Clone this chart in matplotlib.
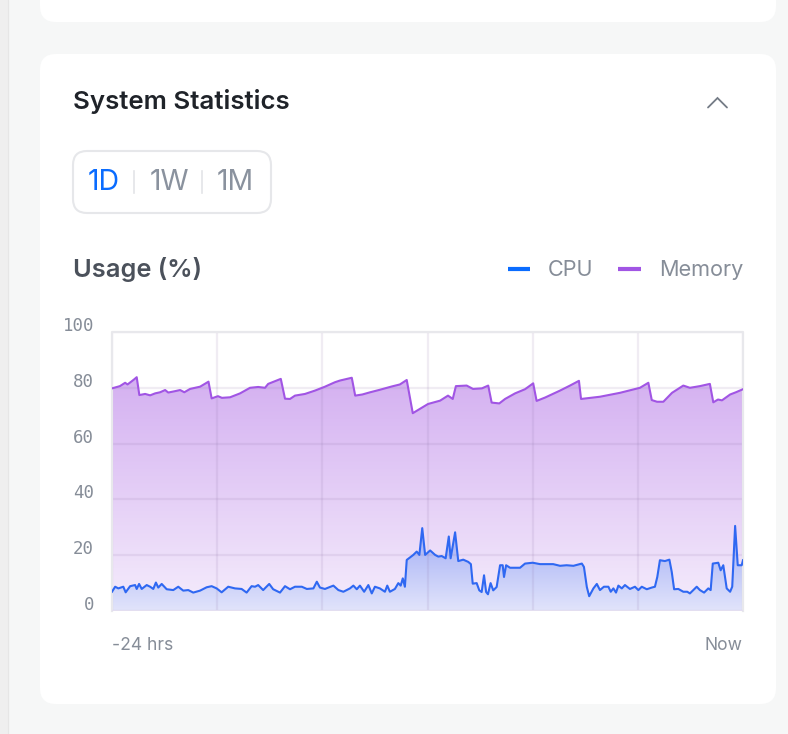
import matplotlib
matplotlib.use("Agg")
import matplotlib.pyplot as plt
import numpy as np
from matplotlib.patches import FancyBboxPatch, Polygon
from matplotlib.colors import LinearSegmentedColormap
import matplotlib.transforms as mtransforms

# ---------------- data ----------------
title = "System Statistics"
chart_title = "Usage (%)"
ranges = ["1D", "1W", "1M"]
series_names = ["CPU", "Memory"]
y_ticks = [0, 20, 40, 60, 80, 100]
x_labels = ["-24 hrs", "Now"]

# hours before now / memory %
mem_t = [-24.0, -23.85, -23.70, -23.50, -23.41, -23.27, -23.16, -23.06, -22.96, -22.74,
         -22.55, -22.36, -22.17, -21.98, -21.86, -21.60, -21.41, -21.25, -21.03, -20.65,
         -20.33, -20.21, -19.97, -19.82, -19.51, -19.13, -18.75, -18.44, -18.18, -18.06,
         -17.58, -17.42, -17.23, -17.04, -16.66, -16.28, -15.90, -15.52, -15.33, -14.88,
         -14.75, -14.48, -14.18, -13.81, -13.35, -13.05, -12.79, -12.56, -12.28, -11.98,
         -11.52, -11.22, -11.04, -10.92, -10.51, -10.27, -9.93, -9.69, -9.56, -9.27,
         -9.05, -8.67, -8.29, -7.98, -7.85, -7.53, -6.96, -6.58, -6.24, -6.16,
         -5.44, -4.68, -3.92, -3.60, -3.47, -3.27, -3.03, -2.70, -2.27, -2.02,
         -1.64, -1.26, -1.13, -0.95, -0.80, -0.49, -0.27, 0.0]
mem_v = [79.8, 80.2, 80.6, 81.8, 81.2, 82.2, 83.0, 83.8, 77.4, 77.8,
         77.3, 78.0, 78.4, 79.2, 78.3, 78.8, 79.2, 78.4, 79.6, 80.4,
         82.2, 76.2, 77.0, 76.4, 76.6, 78.0, 80.0, 80.3, 80.0, 81.4,
         83.2, 76.1, 76.0, 77.2, 77.8, 79.0, 80.4, 82.0, 82.6, 83.6,
         77.2, 77.6, 78.4, 79.3, 80.5, 81.2, 82.8, 70.9, 72.5, 74.2,
         75.4, 77.2, 76.0, 80.6, 80.8, 79.6, 79.8, 80.8, 74.7, 74.4,
         76.0, 78.0, 79.5, 81.6, 75.3, 76.5, 79.0, 80.8, 82.5, 76.0,
         76.8, 78.2, 80.0, 81.8, 75.6, 75.0, 75.0, 78.2, 80.8, 80.0,
         80.6, 81.4, 74.8, 75.8, 75.5, 77.6, 78.4, 79.5]

# hours before now / CPU %
cpu_t = [-24.0, -23.88, -23.76, -23.57, -23.48, -23.31, -23.12, -23.06, -22.97, -22.87,
         -22.68, -22.55, -22.43, -22.33, -22.24, -22.11, -21.92, -21.67, -21.48, -21.29,
         -21.10, -20.91, -20.65, -20.40, -20.21, -20.02, -19.83, -19.58, -19.32, -19.07,
         -18.88, -18.69, -18.56, -18.44, -18.25, -18.02, -17.87, -17.61, -17.42, -17.23,
         -17.04, -16.78, -16.59, -16.34, -16.21, -16.09, -15.90, -15.58, -15.39, -15.20,
         -14.95, -14.82, -14.69, -14.57, -14.41, -14.25, -14.12, -14.00, -13.81, -13.62,
         -13.53, -13.43, -13.24, -13.11, -13.02, -12.94, -12.86, -12.79, -12.54, -12.41,
         -12.31, -12.20, -12.09, -11.90, -11.71, -11.59, -11.46, -11.31, -11.19, -11.12,
         -10.95, -10.83, -10.64, -10.45, -10.35, -10.28, -10.13, -10.03, -9.94, -9.85,
         -9.77, -9.70, -9.60, -9.50, -9.37, -9.24, -9.14, -9.09, -9.01, -8.86,
         -8.48, -8.29, -8.00, -7.72, -7.47, -7.22, -6.96, -6.71, -6.45, -6.13,
         -6.05, -5.94, -5.85, -5.69, -5.56, -5.44, -5.29, -5.12, -5.03, -4.93,
         -4.83, -4.74, -4.61, -4.49, -4.30, -4.11, -3.98, -3.85, -3.66, -3.47,
         -3.35, -3.26, -3.16, -2.97, -2.80, -2.71, -2.62, -2.46, -2.27, -2.12,
         -2.02, -1.89, -1.76, -1.64, -1.48, -1.32, -1.23, -1.15, -0.94, -0.85,
         -0.75, -0.62, -0.49, -0.41, -0.30, -0.20, -0.05, 0.0]
cpu_v = [6.9, 8.7, 8.1, 8.7, 6.7, 8.9, 9.3, 7.9, 9.7, 7.9,
         9.3, 8.7, 7.9, 10.2, 8.4, 9.7, 7.8, 7.5, 8.7, 7.3,
         7.5, 6.6, 7.3, 8.5, 8.9, 8.1, 6.7, 8.7, 8.1, 7.9,
         6.6, 8.9, 8.7, 9.3, 7.5, 9.7, 7.8, 6.6, 8.9, 7.8,
         8.7, 8.7, 7.9, 8.1, 10.5, 8.4, 7.9, 9.1, 7.5, 6.9,
         8.1, 9.1, 7.8, 9.1, 6.9, 9.3, 6.3, 8.7, 8.1, 6.9,
         9.1, 6.9, 7.9, 10.0, 9.1, 11.7, 8.7, 18.3, 20.1, 21.3,
         20.1, 29.7, 20.1, 21.7, 20.1, 19.5, 19.7, 18.9, 26.7, 18.9,
         28.2, 17.9, 18.4, 17.6, 16.8, 9.8, 10.0, 7.4, 6.8, 12.8,
         6.8, 6.0, 10.0, 7.4, 8.6, 16.4, 16.4, 12.2, 16.4, 15.5,
         15.5, 17.0, 17.3, 16.8, 16.8, 16.8, 16.2, 16.4, 16.2, 17.0,
         15.8, 8.6, 5.3, 8.1, 9.7, 7.5, 8.7, 8.7, 6.9, 8.1,
         6.6, 9.1, 8.1, 9.3, 7.9, 8.7, 7.5, 8.7, 7.8, 8.4,
         8.7, 12.2, 18.2, 17.9, 18.4, 14.0, 7.8, 7.9, 6.9, 6.9,
         6.3, 7.5, 8.7, 7.5, 6.6, 8.1, 7.5, 17.0, 17.3, 14.6,
         16.4, 8.1, 6.9, 8.7, 30.5, 16.4, 16.4, 18.2]

# ---------------- colours ----------------
PAGE = "#f6f7f7"
CARD = "#ffffff"
BLUE_LEGEND = "#0a6cff"
CPU_LINE = "#2f68f2"
MEM_LINE = "#a155e4"
GRAY_TXT = "#868d98"
TITLE_TXT = "#1f2329"
SUB_TXT = "#4b515b"

plt.rcParams['font.family'] = ['Inter', 'DejaVu Sans']

W, H = 788, 734
fig = plt.figure(figsize=(W / 100, H / 100), dpi=100)
fig.patch.set_facecolor(PAGE)

# background axes in pixel coordinates
bg = fig.add_axes([0, 0, 1, 1])
bg.set_xlim(0, W)
bg.set_ylim(H, 0)
bg.axis("off")
bg.add_patch(plt.Rectangle((0, 0), 8, H, color="#efefef", zorder=0))
bg.plot([8.5, 8.5], [0, H], color="#e6e6e6", lw=0.8, zorder=0)
bg.add_patch(FancyBboxPatch((40, -40), 736, 62, boxstyle="round,pad=0,rounding_size=16",
                            fc=CARD, ec="none", zorder=1))
bg.add_patch(FancyBboxPatch((40, 54), 736, 650, boxstyle="round,pad=0,rounding_size=16",
                            fc=CARD, ec="none", zorder=1))

bg.text(73, 102, title, fontsize=18.6, fontweight="semibold", color=TITLE_TXT,
        ha="left", va="center", zorder=3)
bg.plot([708, 717.5, 727], [107.5, 98, 107.5], color="#747b86", lw=1.3,
        solid_capstyle="round", solid_joinstyle="miter", zorder=3)

# range selector
bg.add_patch(FancyBboxPatch((73, 151), 198, 62, boxstyle="round,pad=0,rounding_size=14",
                            fc=CARD, ec="#e6e7ea", lw=1.5, zorder=2))
range_x = [104, 169, 235.5]
for i, (lab, xx) in enumerate(zip(ranges, range_x)):
    bg.text(xx, 183, lab, fontsize=20.5, fontweight="normal",
            color=BLUE_LEGEND if i == 0 else "#8a929e",
            ha="center", va="center", zorder=3)
for xx in [134, 202]:
    bg.plot([xx, xx], [171, 193], color="#e3e4e7", lw=1.2, zorder=3)

# chart header
bg.text(73, 270, chart_title, fontsize=18.3, fontweight="semibold", color=SUB_TXT,
        ha="left", va="center", zorder=3)
bg.plot([508, 530], [269, 269], color=BLUE_LEGEND, lw=3, solid_capstyle="butt", zorder=3)
bg.text(548, 270, series_names[0], fontsize=15.6, color=GRAY_TXT, ha="left", va="center", zorder=3)
bg.plot([618, 641], [269, 269], color=MEM_LINE, lw=3, solid_capstyle="butt", zorder=3)
bg.text(743, 270, series_names[1], fontsize=15.6, color=GRAY_TXT, ha="right", va="center", zorder=3)

# ---------------- chart axes ----------------
L, R, T, B = 112, 743, 332, 611
ax = fig.add_axes([L / W, (H - B) / H, (R - L) / W, (B - T) / H])
ax.set_facecolor("none")
for s in ax.spines.values():
    s.set_visible(False)
ax.set_xticks([])
ax.set_yticks([])


def gradient_fill(ax, x, y, top_col, bot_col, ytop, z):
    x = np.asarray(x, float)
    y = np.asarray(y, float)
    verts = np.vstack([np.column_stack([x, y]), [[x[-1], 0], [x[0], 0]]])
    poly = Polygon(verts, closed=True, fc="none", ec="none")
    ax.add_patch(poly)
    cmap = LinearSegmentedColormap.from_list("g", [bot_col, top_col])
    grad = np.linspace(0, 1, 256).reshape(-1, 1)
    im = ax.imshow(grad, cmap=cmap, aspect="auto", origin="lower",
                   extent=[x.min(), x.max(), 0, ytop], zorder=z, interpolation="bilinear")
    im.set_clip_path(poly)


gradient_fill(ax, mem_t, mem_v, "#d4b0f1", "#f5edfc", 84, 1)
gradient_fill(ax, cpu_t, cpu_v, "#a0acf5", "#e2e4fb", 30, 2)
ax.set_xlim(-24, 0)
ax.set_ylim(0, 100)

# grid
for xv in np.linspace(-24, 0, 7):
    ax.axvline(xv, color=(0.55, 0.45, 0.65, 0.13), lw=1.6, zorder=3)
for yv in y_ticks:
    ax.axhline(yv, color=(0.55, 0.45, 0.65, 0.13), lw=1.6, zorder=3)
# outer frame
ax.plot([-24, -24, 0, 0], [0, 100, 100, 0], color="#e8e8ec", lw=1.6, zorder=3, clip_on=False)
ax.axhline(0, color="#e3def0", lw=1.6, zorder=3)

ax.plot(mem_t, mem_v, color=MEM_LINE, lw=1.5, zorder=4, solid_joinstyle="round")
ax.plot(cpu_t, cpu_v, color=CPU_LINE, lw=1.5, zorder=5, solid_joinstyle="round")

# y tick labels
off = mtransforms.offset_copy(ax.get_yaxis_transform(), fig=fig, x=-18, y=6, units="dots")
for yv in y_ticks:
    ax.text(0, yv, str(yv), transform=off, ha="right", va="center",
            fontsize=12.5, family="DejaVu Sans Mono", color=GRAY_TXT)

bg.text(L, 646, x_labels[0], fontsize=12.6, color=GRAY_TXT, ha="left", va="center", zorder=3)
bg.text(R, 646, x_labels[1], fontsize=12.6, color=GRAY_TXT, ha="right", va="center", zorder=3)

fig.savefig("out.png", dpi=100, facecolor=fig.get_facecolor())
